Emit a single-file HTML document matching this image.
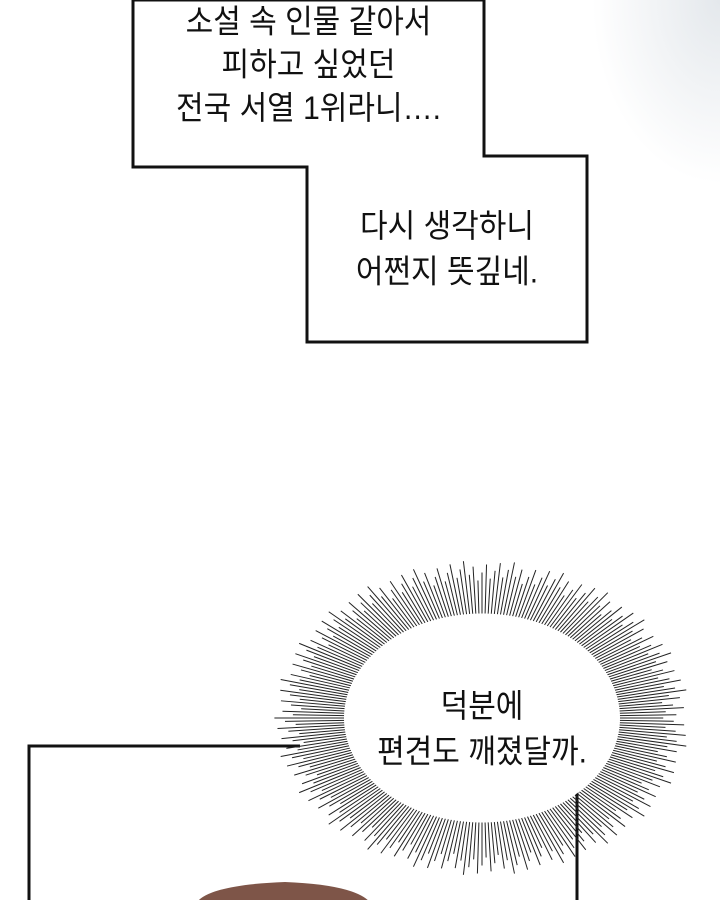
<!DOCTYPE html>
<html><head><meta charset="utf-8"><style>
html,body{margin:0;padding:0;background:#fff;width:720px;height:900px;overflow:hidden;position:relative}
.t{position:absolute;font-family:"Liberation Sans","Noto Sans CJK KR","NanumGothic",sans-serif;font-size:30px;color:#111;text-align:center;line-height:40px;white-space:nowrap;transform:scaleY(1.08)}
</style></head><body>
<svg width="720" height="900" style="position:absolute;left:0;top:0">
<defs><radialGradient id="g" cx="1" cy="0" r="0.8"><stop offset="0" stop-color="#e4e8ec"/><stop offset="1" stop-color="#fff"/></radialGradient></defs>
<rect x="560" y="0" width="160" height="230" fill="url(#g)"/>
<polygon points="133,0 133,167 307,167 307,342 587,342 587,156 484,156 484,0" fill="#fff" stroke="#111" stroke-width="3"/>
<path d="M29,900 L29,746 L300,746" fill="none" stroke="#111" stroke-width="3"/>
<line x1="577" y1="905" x2="577" y2="790" stroke="#111" stroke-width="3"/>
<path d="M195,905 Q205,885 285,882 Q360,885 372,905 Z" fill="#7e5548"/>
<g id="burst" stroke="#222" stroke-width="1"></g>
<ellipse cx="482" cy="718" rx="138" ry="104" fill="#fff"/>
</svg>
<div class="t" style="left:133px;width:351px;top:6px">소설 속 인물 같아서<br>피하고 싶었던<br>전국 서열 1위라니….</div>
<div class="t" style="left:307px;width:280px;top:208px;line-height:42px">다시 생각하니<br>어쩐지 뜻깊네.</div>
<div class="t" style="left:350px;width:264px;top:688px;line-height:42px">덕분에<br>편견도 깨졌달까.</div>
<script>
var g=document.getElementById('burst'),s='';
for(var i=0;i<280;i++){var a=i/280*Math.PI*2;var c=Math.cos(a),n=Math.sin(a);
var r1=0.95,r2=1.25+((i*37)%11)/55;
s+='<line x1="'+(482+c*145*r1)+'" y1="'+(718+n*110*r1)+'" x2="'+(482+c*145*r2)+'" y2="'+(718+n*110*r2)+'"/>';}
g.innerHTML=s;
</script>
</body></html>
